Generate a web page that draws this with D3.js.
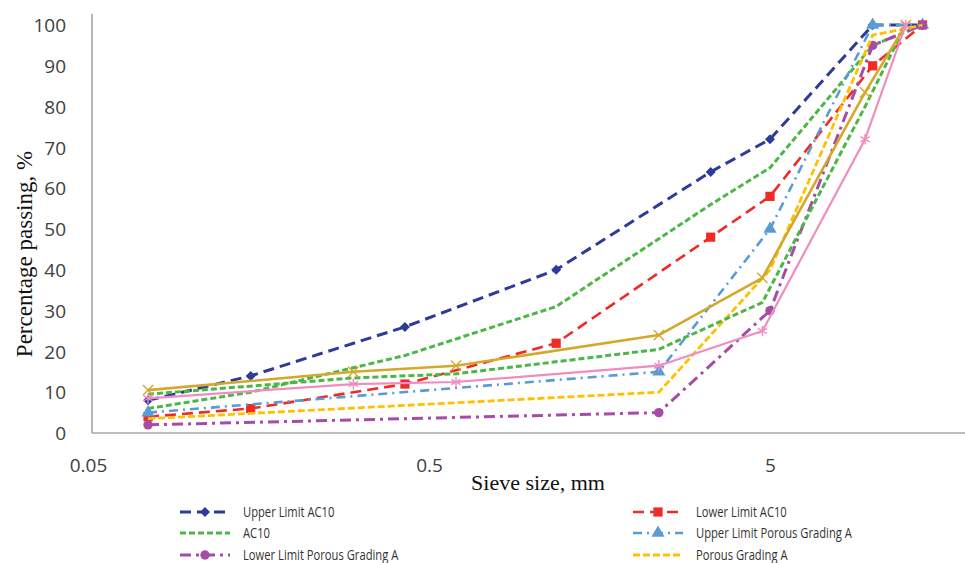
<!DOCTYPE html>
<html>
<head>
<meta charset="utf-8">
<script src="https://cdn.jsdelivr.net/npm/d3@7/dist/d3.min.js"></script>
<style>
  html, body { margin: 0; padding: 0; background: #fff; }
  svg { display: block; }
</style>
</head>
<body>
<svg id="chart" width="965" height="563"></svg>
<script>
// ---------- DATA ----------
const sieveAC = [0.075, 0.15, 0.425, 1.18, 3.35, 5, 10, 14];
const upperAC10 = [8, 14, 26, 40, 64, 72, 100, 100];
const lowerAC10 = [4, 6, 12, 22, 48, 58, 90, 100];
const ac10 = [6, 10, 19, 31, 56, 65, 95, 100];

const sievePorous = [0.075, 2.36, 5, 10, 14];
const upperPorous = [5, 15, 50, 100, 100];
const lowerPorous = [2, 5, 30, 95, 100];
const porousA = [3.5, 10, 40, 97.5, 100];

const sieveBlend = [0.075, 0.3, 0.6, 2.36, 4.75, 9.5, 12.5];
const blendGold = [10.5, 15, 16.5, 24, 38, 83.5, 100];
const blendPink = [8.5, 12, 12.5, 16.5, 25, 72, 100];
const blendGreen = [9.5, 13.5, 14.5, 20.5, 32, 80, 100];

const xTicks = [0.05, 0.5, 5];
const yTicks = [0, 10, 20, 30, 40, 50, 60, 70, 80, 90, 100];

const seriesNames = [
  "Upper Limit AC10", "Lower Limit AC10", "AC10",
  "Upper Limit Porous Grading A", "Lower Limit Porous Grading A", "Porous Grading A",
  "Blend 1", "Blend 2", "Blend 3"
];

// ---------- STYLES ----------
const styles = [
  { sx: sieveAC, v: upperAC10, color: "#2E3C98", dash: "11,6", w: 3, sym: d3.symbolSquare, rot: 45, size: 50, fill: true },
  { sx: sieveAC, v: lowerAC10, color: "#EE2B25", dash: "11,6", w: 2.6, sym: d3.symbolSquare, rot: 0, size: 85, fill: true },
  { sx: sieveAC, v: ac10, color: "#4CB747", dash: "6,3", w: 3, sym: null },
  { sx: sievePorous, v: upperPorous, color: "#5B9BD5", dash: "9,5,2,5", w: 2.6, sym: d3.symbolTriangle, rot: 0, size: 75, fill: true },
  { sx: sievePorous, v: lowerPorous, color: "#A64CA6", dash: "11,5,3,5", w: 3, sym: d3.symbolCircle, rot: 0, size: 70, fill: true },
  { sx: sievePorous, v: porousA, color: "#FFC000", dash: "7,3", w: 2.8, sym: null },
  { sx: sieveBlend, v: blendGreen, color: "#4CB747", dash: "6,3", w: 3, sym: null },
  { sx: sieveBlend, v: blendGold, color: "#D4A82B", dash: null, w: 2.6, sym: d3.symbolTimes, rot: 0, size: 70, fill: false },
  { sx: sieveBlend, v: blendPink, color: "#F08CC0", dash: null, w: 2.2, sym: d3.symbolAsterisk, rot: 0, size: 80, fill: false }
];

const svg = d3.select("#chart");
const W = 965, H = 563;

const x = d3.scaleLog().domain([0.05, 50]).range([88, 88 + 3 * 341]);
const y = d3.scaleLinear().domain([0, 100]).range([433, 25]);
const axisX = 92;

// axes lines
svg.append("line").attr("x1", axisX).attr("x2", axisX).attr("y1", 14).attr("y2", y(0))
  .attr("stroke", "#A6A6A6").attr("stroke-width", 1.6);
svg.append("line").attr("x1", axisX).attr("x2", W).attr("y1", y(0)).attr("y2", y(0))
  .attr("stroke", "#A6A6A6").attr("stroke-width", 1.6);

// y ticks
const yAxis = d3.axisLeft(y).tickValues(yTicks).tickSize(0).tickPadding(0).tickFormat(d3.format("d"));
const gy = svg.append("g").attr("transform", `translate(${axisX - 26},0)`).call(yAxis);
gy.select(".domain").remove();
gy.selectAll("text").attr("font-family", "'Open Sans', sans-serif").attr("font-size", 19)
  .attr("fill", "#404040").attr("dy", "0.35em");

// x ticks
const xAxis = d3.axisBottom(x).tickValues(xTicks).tickSize(0).tickPadding(0).tickFormat(d => String(d));
const gx = svg.append("g").attr("transform", `translate(0,${y(0)})`).call(xAxis);
gx.select(".domain").remove();
gx.selectAll("text").attr("font-family", "'Open Sans', sans-serif").attr("font-size", 19)
  .attr("fill", "#404040").attr("dy", "0").attr("y", 39);

// axis titles
svg.append("text").attr("x", 538).attr("y", 490).attr("text-anchor", "middle")
  .attr("font-family", "'Liberation Serif', 'Times New Roman', serif").attr("font-size", 22)
  .attr("fill", "#111").text("Sieve size, mm");
svg.append("text").attr("transform", "translate(24,254) rotate(-90)").attr("text-anchor", "middle")
  .attr("font-family", "'Liberation Serif', 'Times New Roman', serif").attr("font-size", 23)
  .attr("fill", "#111").attr("dy", "0.35em").text("Percentage passing, %");

// lines
const line = d3.line().x(d => x(d[0])).y(d => y(d[1]));
const plot = svg.append("g");
styles.forEach((s, i) => {
  const pts = s.sx.map((sv, j) => [sv, s.v[j]]);
  const g = plot.append("g").attr("class", "series").attr("data-name", seriesNames[i]);
  g.append("path").datum(pts).attr("d", line).attr("fill", "none")
    .attr("stroke", s.color).attr("stroke-width", s.w)
    .attr("stroke-dasharray", s.dash).attr("stroke-linejoin", "round");
  if (s.sym) {
    g.selectAll("path.m").data(pts).join("path").attr("class", "m")
      .attr("d", d3.symbol().type(s.sym).size(s.size))
      .attr("transform", d => `translate(${x(d[0])},${y(d[1])}) rotate(${s.rot})`)
      .attr("fill", s.fill ? s.color : "none")
      .attr("stroke", s.color).attr("stroke-width", s.fill ? 0 : 1.4);
  }
});

// legend (only six visible entries)
const legendCols = [[0, 2, 4], [1, 3, 5]];
const legendX = [180, 633];
const legendY = [512, 533, 555];
legendCols.forEach((col, ci) => {
  col.forEach((si, ri) => {
    const s = styles[si];
    const g = svg.append("g").attr("transform", `translate(${legendX[ci]},${legendY[ri]})`);
    g.append("line").attr("x1", 0).attr("x2", 50).attr("y1", 0).attr("y2", 0)
      .attr("stroke", s.color).attr("stroke-width", s.w).attr("stroke-dasharray", s.dash);
    if (s.sym) {
      g.append("path").attr("d", d3.symbol().type(s.sym).size(s.size))
        .attr("transform", `translate(25,0) rotate(${s.rot})`).attr("fill", s.color);
    }
    const t = g.append("text").attr("x", 63).attr("y", 0).attr("dy", "0.35em")
      .attr("font-family", "'Open Sans', sans-serif").attr("font-size", 14)
      .attr("fill", "#333").text(seriesNames[si]);
    const len = t.node().getComputedTextLength();
    t.attr("textLength", len * 0.8).attr("lengthAdjust", "spacingAndGlyphs");
  });
});
</script>
</body>
</html>
